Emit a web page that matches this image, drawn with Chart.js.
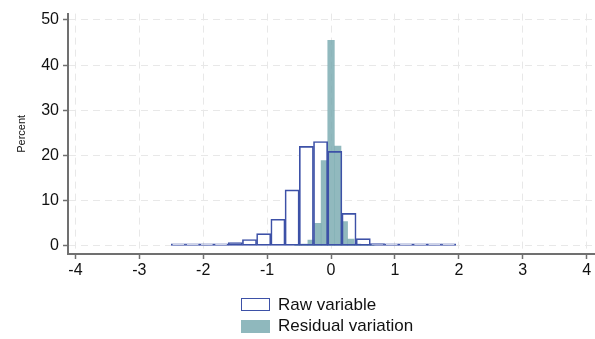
<!DOCTYPE html>
<html>
<head>
<meta charset="utf-8">
<script src="https://cdn.jsdelivr.net/npm/chart.js@4.4.1/dist/chart.umd.min.js"></script>
<style>
  body { margin: 0; background: #fff; }
  #wrap { position: relative; width: 595px; height: 339px; font-family: "Liberation Sans", Arial, sans-serif; }
  #legend { position: absolute; left: 241px; top: 294px; font-size: 17px; color: #111; }
  .row { display: flex; align-items: center; height: 21.5px; }
  .swatch { width: 29px; height: 13px; box-sizing: border-box; margin-right: 8px; }
</style>
</head>
<body>
<div id="wrap">
  <canvas id="histChart" width="595" height="339"></canvas>
  <div id="legend">
    <div class="row"><span class="swatch" style="border:1px solid #3d51a7;background:#fff"></span>Raw variable</div>
    <div class="row"><span class="swatch" style="background:#8fb8bd"></span>Residual variation</div>
  </div>
</div>
<script>
// bin centres and heights (percent)
const rawCenters = [-2.389, -2.166, -1.944, -1.721, -1.499, -1.276, -1.054, -0.831, -0.609, -0.386,
                    -0.164, 0.059, 0.281, 0.504, 0.726, 0.949, 1.171, 1.394, 1.616, 1.839];
const rawPercent = [0.1, 0.05, 0.15, 0.35, 0.75, 1.4, 2.7, 5.9, 12.4, 22.0,
                    23.1, 20.9, 7.2, 1.6, 0.5, 0.2, 0.15, 0.1, 0.1, 0.1];

const residCenters = [-0.518, -0.414, -0.311, -0.207, -0.104, 0, 0.104, 0.207, 0.311, 0.414, 0.518, 0.621];
const residPercent = [0.1, 0.4, 1.3, 5.0, 18.9, 45.5, 22.1, 5.4, 1.5, 0.4, 0.2, 0.1];

const xTicks = [-4, -3, -2, -1, 0, 1, 2, 3, 4];
const yTicks = [0, 10, 20, 30, 40, 50];

const toPoints = (xs, ys) => xs.map((x, i) => ({ x: x, y: ys[i] }));

const rawColor = '#3d51a7';
const tealColor = 'rgba(118,168,174,0.8)';
const gridColor = '#e8e8e8';
const axisColor = '#707070';
const tickFont = { family: '"Liberation Sans", Arial, sans-serif', size: 16 };
const xMin = -4.116, xMax = 4.13;

// every bar dataset sits on its own x position, no side-by-side grouping
const barBase = { categoryPercentage: 1, barPercentage: 1, grouped: false };

const data = {
  datasets: [
    Object.assign({
      label: 'Raw variable',
      data: toPoints(rawCenters, rawPercent),
      xAxisID: 'x',
      backgroundColor: '#ffffff',
      borderWidth: 0,
      order: 3
    }, barBase),
    Object.assign({
      label: 'Residual variation',
      data: toPoints(residCenters, residPercent),
      xAxisID: 'x2',
      backgroundColor: tealColor,
      borderWidth: 0,
      order: 2
    }, barBase),
    Object.assign({
      label: 'Raw outline',
      data: toPoints(rawCenters, rawPercent),
      xAxisID: 'x',
      backgroundColor: 'rgba(0,0,0,0)',
      borderColor: rawColor,
      borderWidth: 1,
      borderSkipped: false,
      minBarLength: 2,
      order: 1
    }, barBase)
  ]
};

const config = {
  type: 'bar',
  data: data,
  options: {
    responsive: false,
    animation: false,
    events: [],
    layout: { padding: { top: 9, bottom: 55, left: 0, right: 0 } },
    scales: {
      x: {
        type: 'linear',
        min: xMin,
        max: xMax,
        offset: false,
        afterBuildTicks: (s) => { s.ticks = xTicks.map(v => ({ value: v })); },
        afterFit: (s) => { s.height = 30; },
        grid: { color: gridColor, lineWidth: 1, tickColor: axisColor, tickLength: 5, tickWidth: 1.5, offset: false },
        border: { color: axisColor, width: 2, dash: [7, 5] },
        ticks: { color: '#111', font: tickFont, padding: 2, maxRotation: 0, autoSkip: false }
      },
      x2: {
        type: 'linear',
        min: xMin,
        max: xMax,
        offset: false,
        display: false
      },
      y: {
        min: -1.8,
        max: 51.4,
        afterBuildTicks: (s) => { s.ticks = yTicks.map(v => ({ value: v })); },
        afterFit: (s) => { s.width = 68; },
        grid: { color: gridColor, lineWidth: 1, tickColor: axisColor, tickLength: 5, tickWidth: 1.5 },
        border: { color: axisColor, width: 2, dash: [7, 5] },
        ticks: { color: '#111', font: tickFont, padding: 4 },
        title: {
          display: true,
          text: 'Percent',
          color: '#111',
          font: { family: '"Liberation Sans", Arial, sans-serif', size: 11 },
          padding: { top: 15 }
        }
      }
    },
    plugins: {
      legend: { display: false },
      tooltip: { enabled: false }
    }
  }
};

const ctx = document.getElementById('histChart').getContext('2d');
const histChart = new Chart(ctx, config);
</script>
</body>
</html>
